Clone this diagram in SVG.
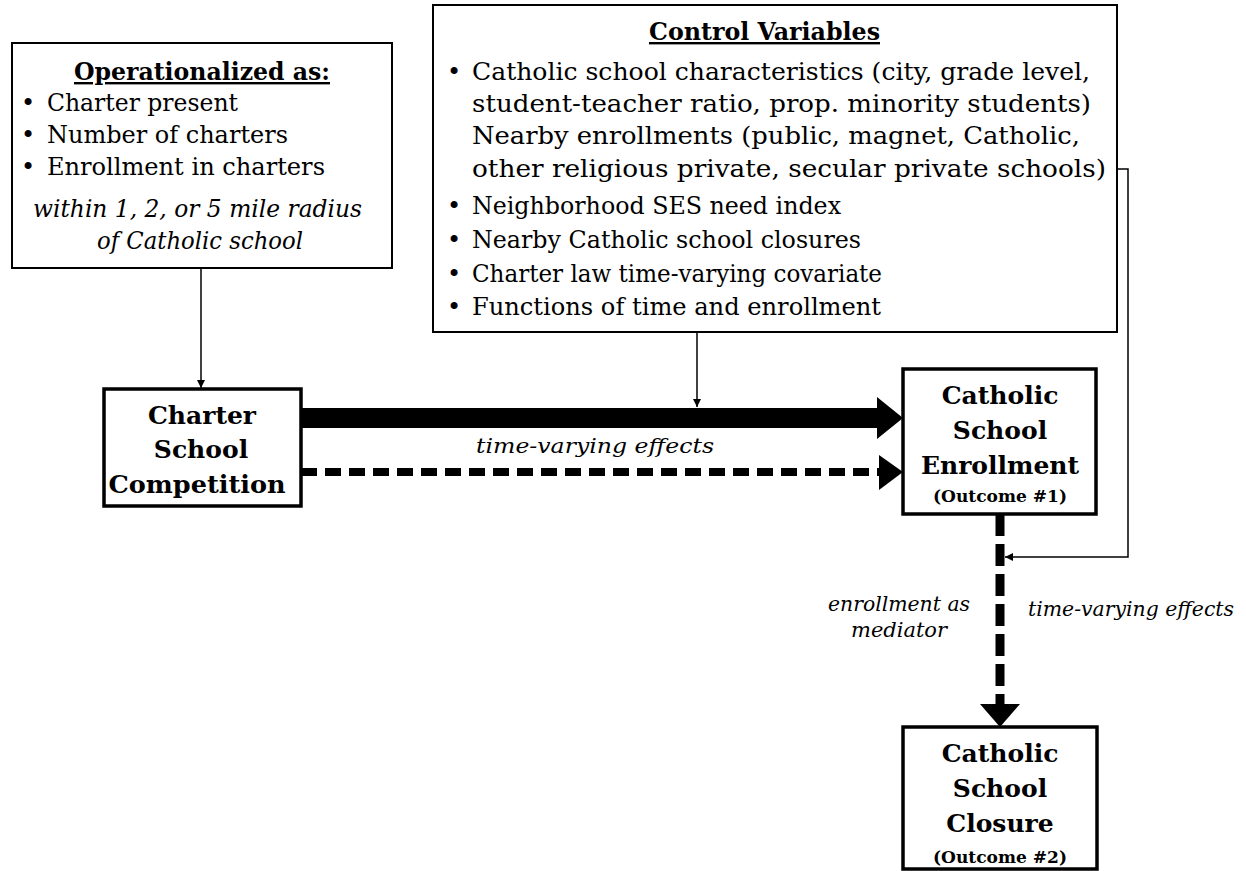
<svg xmlns="http://www.w3.org/2000/svg" width="1246" height="871" viewBox="0 0 1246 871">
<style>
text{font-family:"DejaVu Serif","Liberation Serif",serif;fill:#000}
.b{font-size:24px}
.t{font-size:24px;font-weight:bold;text-decoration:underline}
.i{font-style:italic}
.n{font-size:25px;font-weight:bold;text-anchor:middle}
.o{font-size:17px;font-weight:bold;text-anchor:middle}
.box{fill:#fff;stroke:#000;stroke-width:2}
.nbox{fill:#fff;stroke:#000;stroke-width:3.5}
.thin{fill:none;stroke:#000;stroke-width:1.5}
</style>
<defs>
<marker id="ah" viewBox="0 0 10 10" refX="10" refY="5" markerWidth="8" markerHeight="8" markerUnits="userSpaceOnUse" orient="auto"><path d="M0,0 L10,5 L0,10 z" fill="#000"/></marker>
</defs>
<rect width="1246" height="871" fill="#fff"/>
<g id="operationalized">
<rect class="box" x="12" y="43" width="380" height="225"/>
<text class="t" x="202" y="80" text-anchor="middle" textLength="256" lengthAdjust="spacingAndGlyphs">Operationalized as:</text>
<text class="b" x="21" y="111">•</text>
<text class="b" x="47" y="111" textLength="191" lengthAdjust="spacingAndGlyphs">Charter present</text>
<text class="b" x="21" y="143">•</text>
<text class="b" x="47" y="143" textLength="241" lengthAdjust="spacingAndGlyphs">Number of charters</text>
<text class="b" x="21" y="175">•</text>
<text class="b" x="47" y="175" textLength="278" lengthAdjust="spacingAndGlyphs">Enrollment in charters</text>
<text class="b i" x="33" y="217" textLength="329" lengthAdjust="spacingAndGlyphs">within 1, 2, or 5 mile radius</text>
<text class="b i" x="97" y="249" textLength="206" lengthAdjust="spacingAndGlyphs">of Catholic school</text>
</g>
<g id="controls">
<rect class="box" x="433" y="5" width="684" height="327"/>
<text class="t" x="649" y="40" textLength="231" lengthAdjust="spacingAndGlyphs">Control Variables</text>
<text class="b" x="447" y="80">•</text>
<text class="b" x="472" y="80" textLength="618" lengthAdjust="spacingAndGlyphs">Catholic school characteristics (city, grade level,</text>
<text class="b" x="472" y="112" textLength="619" lengthAdjust="spacingAndGlyphs">student-teacher ratio, prop. minority students)</text>
<text class="b" x="472" y="144" textLength="608" lengthAdjust="spacingAndGlyphs">Nearby enrollments (public, magnet, Catholic,</text>
<text class="b" x="472" y="177" textLength="634" lengthAdjust="spacingAndGlyphs">other religious private, secular private schools)</text>
<text class="b" x="447" y="214">•</text>
<text class="b" x="472" y="214" textLength="369" lengthAdjust="spacingAndGlyphs">Neighborhood SES need index</text>
<text class="b" x="447" y="248">•</text>
<text class="b" x="472" y="248" textLength="389" lengthAdjust="spacingAndGlyphs">Nearby Catholic school closures</text>
<text class="b" x="447" y="282">•</text>
<text class="b" x="472" y="282" textLength="410" lengthAdjust="spacingAndGlyphs">Charter law time-varying covariate</text>
<text class="b" x="447" y="315">•</text>
<text class="b" x="472" y="315" textLength="409" lengthAdjust="spacingAndGlyphs">Functions of time and enrollment</text>
</g>
<g id="competition">
<rect class="nbox" x="104" y="389" width="197" height="117"/>
<text class="n" x="202" y="424">Charter</text>
<text class="n" x="201" y="458">School</text>
<text class="n" x="197" y="493" textLength="177" lengthAdjust="spacingAndGlyphs">Competition</text>
</g>
<g id="enrollment">
<rect class="nbox" x="903" y="369" width="193" height="145"/>
<text class="n" x="1000" y="404">Catholic</text>
<text class="n" x="1000" y="439">School</text>
<text class="n" x="1000" y="474">Enrollment</text>
<text class="o" x="1000" y="502" textLength="134" lengthAdjust="spacingAndGlyphs">(Outcome #1)</text>
</g>
<g id="closure">
<rect class="nbox" x="903" y="727" width="194" height="142"/>
<text class="n" x="1000" y="762">Catholic</text>
<text class="n" x="1000" y="797">School</text>
<text class="n" x="1000" y="832">Closure</text>
<text class="o" x="1000" y="863" textLength="134" lengthAdjust="spacingAndGlyphs">(Outcome #2)</text>
</g>
<g id="connectors">
<line class="thin" x1="201" y1="268" x2="201" y2="388" marker-end="url(#ah)"/>
<line class="thin" x1="697" y1="332" x2="697" y2="407" marker-end="url(#ah)"/>
<polyline class="thin" points="1117,169 1128,169 1128,557 1005,557" marker-end="url(#ah)"/>
<rect x="301" y="408" width="580" height="20" fill="#000"/>
<path d="M877,397 L903,418 L877,439 z" fill="#000"/>
<line x1="301" y1="472" x2="882" y2="472" stroke="#000" stroke-width="8" stroke-dasharray="16 8"/>
<path d="M879,455 L903,472 L879,490 z" fill="#000"/>
<line x1="1000" y1="514" x2="1000" y2="706" stroke="#000" stroke-width="9" stroke-dasharray="22 8"/>
<path d="M980,704 L1020,704 L1000,727 z" fill="#000"/>
<text class="i" x="595" y="453" font-size="20" text-anchor="middle" textLength="238" lengthAdjust="spacingAndGlyphs">time-varying effects</text>
<text class="i" x="899" y="611" font-size="21" text-anchor="middle" textLength="142" lengthAdjust="spacingAndGlyphs">enrollment as</text>
<text class="i" x="899" y="637" font-size="21" text-anchor="middle" textLength="96" lengthAdjust="spacingAndGlyphs">mediator</text>
<text class="i" x="1131" y="616" font-size="21" text-anchor="middle" textLength="206" lengthAdjust="spacingAndGlyphs">time-varying effects</text>
</g>
</svg>
